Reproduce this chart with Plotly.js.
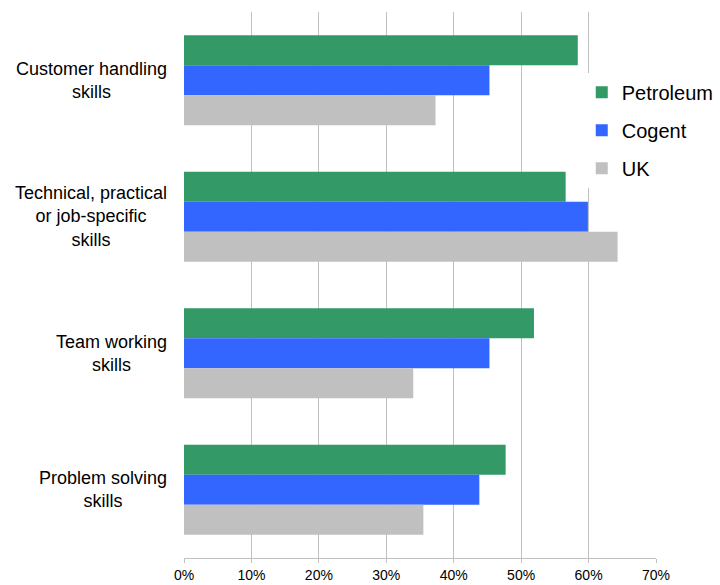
<!DOCTYPE html>
<html>
<head>
<meta charset="utf-8">
<script src="https://cdn.plot.ly/plotly-3.0.1.min.js"></script>
<style>html,body{margin:0;padding:0;background:#fff;}#chart{width:720px;height:585px;}</style>
</head>
<body>
<div id="chart"></div>
<script>
const categories = ["Customer handling skills", "Technical, practical or job-specific skills", "Team working skills", "Problem solving skills"];
const categoryLabels = ["Customer handling<br>skills", "Technical, practical<br>or job-specific<br>skills", "Team working<br>skills", "Problem solving<br>skills"];
const seriesNames = ["Petroleum", "Cogent", "UK"];
const petroleum = [0.584, 0.566, 0.519, 0.477];
const cogent = [0.453, 0.599, 0.453, 0.438];
const uk = [0.373, 0.643, 0.340, 0.355];
const tickValues = [0, 0.1, 0.2, 0.3, 0.4, 0.5, 0.6, 0.7];
const tickLabels = ["0%", "10%", "20%", "30%", "40%", "50%", "60%", "70%"];
const colors = ["#339966", "#3366FF", "#C0C0C0"];

const seriesValues = [petroleum, cogent, uk];
const traces = seriesValues.map((vals, i) => ({
  type: "bar",
  orientation: "h",
  name: seriesNames[i],
  x: vals,
  y: categories,
  marker: {color: colors[i], line: {width: 0}},
  legendgroup: "g" + i,
  hoverinfo: "x+name"
}));

const annotations = categories.map((c, i) => ({
  xref: "paper", yref: "y",
  x: 0, y: c,
  xanchor: "right", yanchor: "middle",
  xshift: -15,
  align: "center",
  showarrow: false,
  text: categoryLabels[i],
  font: {family: "Liberation Sans, Arial, sans-serif", size: 18, color: "#000"}
}));

const layout = {
  width: 720, height: 585,
  margin: {l: 184, r: 64, t: 12, b: 27, autoexpand: false},
  paper_bgcolor: "#fff", plot_bgcolor: "#fff",
  barmode: "group",
  bargap: 0.34,
  bargroupgap: 0,
  font: {family: "Liberation Sans, Arial, sans-serif", color: "#000"},
  xaxis: {
    range: [0, 0.7],
    tickvals: tickValues,
    ticktext: tickLabels,
    showgrid: true,
    gridcolor: "#c0c0c0",
    gridwidth: 1,
    zeroline: false,
    showline: true,
    linecolor: "#c0c0c0",
    ticks: "outside",
    ticklen: 4,
    tickcolor: "#c0c0c0",
    tickfont: {size: 14, color: "#000"},
    fixedrange: true
  },
  yaxis: {
    type: "category",
    autorange: "reversed",
    showticklabels: false,
    showgrid: false,
    zeroline: false,
    showline: false,
    ticks: "",
    fixedrange: true
  },
  showlegend: true,
  legend: {
    xref: "container", yref: "container",
    x: 0.808, y: 0.8755,
    xanchor: "left", yanchor: "top",
    bgcolor: "#fff",
    borderwidth: 0,
    font: {size: 20, color: "#000"},
    traceorder: "grouped",
    tracegroupgap: 9,
    itemwidth: 30
  },
  annotations: annotations
};

Plotly.newPlot("chart", traces, layout, {displayModeBar: false, staticPlot: true});
</script>
</body>
</html>
